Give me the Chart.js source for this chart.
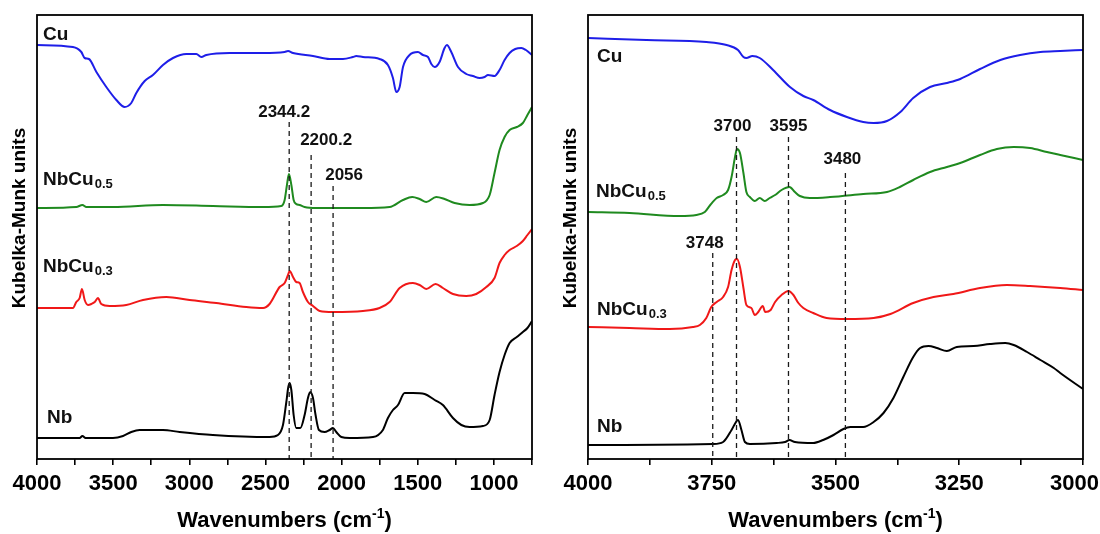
<!DOCTYPE html>
<html>
<head>
<meta charset="utf-8">
<title>DRIFT spectra – Kubelka-Munk</title>
<script src="https://cdn.jsdelivr.net/npm/chart.js@4/dist/chart.umd.min.js"></script>
<style>
  html, body { margin: 0; padding: 0; background: #fff; }
  #wrap { position: relative; width: 1100px; height: 534px; }
  .panel { position: absolute; top: 0; width: 550px; height: 534px; }
</style>
</head>
<body>
<div id="wrap">
  <div class="panel" style="left:0"><canvas id="fullRange"></canvas></div>
  <div class="panel" style="left:550px"><canvas id="ohRange"></canvas></div>
</div>
<script>
// ---------- full range 4000–750 cm-1 (offset Kubelka-Munk, a.u.) ----------
const cuFullWn = [4000, 3764, 3709, 3687, 3659, 3610, 3545, 3479, 3425, 3381, 3348, 3293, 3239, 3173, 3107, 3020, 2954, 2921, 2888, 2735, 2516, 2374, 2352, 2319, 2188, 2079, 1991, 1926, 1904, 1860, 1751, 1696, 1663, 1641, 1619, 1597, 1554, 1499, 1466, 1433, 1411, 1389, 1357, 1324, 1309, 1280, 1236, 1182, 1138, 1094, 1061, 1039, 996, 963, 930, 897, 860, 820, 790, 750];
const cuFullKM = [4.14, 4.12, 4.07, 4.01, 4.00, 3.87, 3.72, 3.59, 3.52, 3.56, 3.66, 3.78, 3.84, 3.94, 4.01, 4.05, 4.05, 4.02, 4.04, 4.06, 4.06, 4.07, 4.08, 4.06, 4.03, 4.00, 4.00, 4.02, 4.03, 4.02, 4.00, 3.94, 3.81, 3.67, 3.72, 3.92, 4.04, 4.07, 4.04, 4.02, 3.95, 3.92, 3.97, 4.11, 4.14, 4.07, 3.92, 3.85, 3.83, 3.81, 3.82, 3.84, 3.83, 3.89, 3.99, 4.06, 4.10, 4.11, 4.09, 4.04];

const nbcu05FullWn = [4000, 3742, 3702, 3676, 3501, 3173, 2845, 2516, 2396, 2374, 2359, 2346, 2330, 2315, 2298, 2276, 2243, 2166, 1860, 1685, 1597, 1536, 1488, 1444, 1379, 1324, 1258, 1160, 1072, 1028, 996, 963, 930, 897, 850, 810, 780, 750];
const nbcu05FullKM = [2.51, 2.52, 2.54, 2.52, 2.52, 2.54, 2.53, 2.52, 2.53, 2.59, 2.74, 2.85, 2.74, 2.59, 2.55, 2.54, 2.52, 2.51, 2.51, 2.52, 2.59, 2.62, 2.60, 2.57, 2.62, 2.60, 2.56, 2.54, 2.56, 2.64, 2.86, 3.09, 3.22, 3.29, 3.32, 3.36, 3.44, 3.52];

const nbcu03FullWn = [4000, 3764, 3742, 3720, 3705, 3687, 3665, 3643, 3621, 3600, 3578, 3523, 3414, 3304, 3151, 2998, 2823, 2626, 2516, 2473, 2407, 2374, 2352, 2341, 2319, 2298, 2276, 2254, 2221, 2188, 2144, 2057, 1860, 1751, 1685, 1619, 1532, 1488, 1444, 1383, 1335, 1269, 1182, 1116, 1050, 996, 963, 930, 897, 850, 810, 780, 750];
const nbcu03FullKM = [1.51, 1.51, 1.57, 1.61, 1.70, 1.59, 1.54, 1.55, 1.57, 1.61, 1.55, 1.53, 1.54, 1.59, 1.62, 1.59, 1.56, 1.52, 1.51, 1.55, 1.72, 1.76, 1.84, 1.88, 1.82, 1.77, 1.76, 1.67, 1.57, 1.53, 1.48, 1.47, 1.48, 1.51, 1.57, 1.71, 1.76, 1.74, 1.70, 1.75, 1.71, 1.65, 1.63, 1.65, 1.72, 1.81, 1.96, 2.04, 2.09, 2.13, 2.18, 2.24, 2.30];

const nbFullWn = [4000, 3720, 3702, 3681, 3501, 3435, 3381, 3326, 3173, 3063, 2845, 2473, 2418, 2385, 2363, 2350, 2341, 2330, 2315, 2298, 2271, 2243, 2221, 2206, 2188, 2171, 2149, 2112, 2079, 2057, 2035, 2002, 1947, 1794, 1729, 1696, 1663, 1630, 1586, 1532, 1455, 1389, 1335, 1269, 1214, 1160, 1072, 1028, 996, 963, 930, 897, 850, 810, 780, 750];
const nbFullKM = [0.21, 0.21, 0.23, 0.21, 0.21, 0.23, 0.27, 0.29, 0.29, 0.27, 0.24, 0.22, 0.24, 0.34, 0.57, 0.72, 0.76, 0.69, 0.44, 0.31, 0.31, 0.44, 0.61, 0.67, 0.61, 0.44, 0.29, 0.27, 0.29, 0.31, 0.27, 0.22, 0.21, 0.22, 0.29, 0.41, 0.49, 0.54, 0.66, 0.66, 0.65, 0.59, 0.54, 0.41, 0.34, 0.32, 0.33, 0.39, 0.64, 0.87, 1.04, 1.16, 1.22, 1.27, 1.31, 1.38];

// ---------- hydroxyl region 4000–3000 cm-1 ----------
const cuOhWn = [4000, 3882, 3761, 3720, 3697, 3686, 3680, 3668, 3653, 3626, 3592, 3565, 3545, 3511, 3477, 3444, 3423, 3396, 3369, 3343, 3309, 3275, 3248, 3208, 3167, 3127, 3086, 3046, 3000];
const cuOhKM = [4.21, 4.19, 4.17, 4.14, 4.09, 4.02, 4.01, 4.03, 4.01, 3.89, 3.72, 3.63, 3.59, 3.49, 3.42, 3.37, 3.36, 3.38, 3.47, 3.61, 3.72, 3.76, 3.80, 3.90, 3.99, 4.04, 4.07, 4.08, 4.09];

const nbcu05OhWn = [4000, 3916, 3815, 3781, 3764, 3753, 3740, 3727, 3717, 3710, 3703, 3699, 3693, 3686, 3680, 3673, 3663, 3653, 3643, 3633, 3622, 3609, 3593, 3582, 3572, 3552, 3511, 3444, 3396, 3370, 3343, 3309, 3275, 3248, 3208, 3174, 3140, 3107, 3073, 3046, 3000];
const nbcu05OhKM = [2.47, 2.46, 2.43, 2.44, 2.47, 2.54, 2.61, 2.64, 2.69, 2.82, 3.02, 3.10, 3.06, 2.86, 2.67, 2.62, 2.58, 2.61, 2.58, 2.61, 2.64, 2.69, 2.72, 2.67, 2.63, 2.61, 2.62, 2.65, 2.67, 2.72, 2.79, 2.87, 2.92, 2.96, 3.04, 3.10, 3.12, 3.11, 3.07, 3.04, 2.99];

const nbcu03OhWn = [4000, 3916, 3835, 3788, 3774, 3761, 3751, 3740, 3727, 3717, 3710, 3703, 3699, 3693, 3686, 3680, 3670, 3663, 3656, 3647, 3642, 3631, 3622, 3609, 3595, 3585, 3575, 3565, 3545, 3518, 3477, 3423, 3389, 3343, 3302, 3262, 3208, 3154, 3107, 3046, 3000];
const nbcu03OhKM = [1.32, 1.31, 1.30, 1.32, 1.34, 1.41, 1.52, 1.57, 1.62, 1.72, 1.89, 1.99, 2.00, 1.92, 1.71, 1.54, 1.51, 1.44, 1.47, 1.53, 1.47, 1.49, 1.57, 1.64, 1.68, 1.64, 1.56, 1.51, 1.46, 1.41, 1.40, 1.41, 1.45, 1.56, 1.62, 1.65, 1.71, 1.74, 1.73, 1.71, 1.69];

const nbOhWn = [4000, 3747, 3727, 3710, 3701, 3697, 3690, 3683, 3673, 3619, 3602, 3593, 3582, 3545, 3525, 3504, 3484, 3470, 3444, 3423, 3403, 3383, 3363, 3343, 3329, 3312, 3295, 3275, 3255, 3221, 3188, 3157, 3140, 3113, 3086, 3059, 3046, 3000];
const nbOhKM = [0.14, 0.15, 0.17, 0.29, 0.37, 0.39, 0.29, 0.17, 0.15, 0.16, 0.17, 0.19, 0.17, 0.16, 0.19, 0.24, 0.30, 0.32, 0.32, 0.37, 0.46, 0.61, 0.82, 1.02, 1.11, 1.13, 1.11, 1.08, 1.12, 1.13, 1.15, 1.16, 1.14, 1.07, 0.99, 0.91, 0.86, 0.70];

// sample names (main text + subscript) and colours
const sampleNames = [['Cu', ''], ['NbCu', '0.5'], ['NbCu', '0.3'], ['Nb', '']];
const sampleColors = ['#1e1ee8', '#1f8a1f', '#f01818', '#000000'];

// marked band positions (cm-1)
const fullBands = [2344.2, 2200.2, 2056];
const ohBands = [3700, 3595, 3480, 3748];

// ---------- drawing helpers ----------
const FONT = '"Liberation Sans", Arial, Helvetica, sans-serif';

function pairs(wn, km) { return wn.map((w, i) => ({ x: w, y: km[i] })); }

function makeSets(seriesList) {
  return seriesList.map((s, i) => ({
    label: sampleNames[i].join(''),
    data: pairs(s[0], s[1]),
    borderColor: sampleColors[i],
    borderWidth: 2,
    pointRadius: 0,
    fill: false,
    cubicInterpolationMode: 'monotone'
  }));
}

const panelDecor = {
  id: 'panelDecor',
  afterDatasetsDraw(chart, args, o) {
    const { ctx, chartArea: a, scales: { x, y } } = chart;
    ctx.save();

    // dashed band markers
    ctx.strokeStyle = '#1a1a1a';
    ctx.lineWidth = 1.3;
    ctx.setLineDash([5, 4]);
    o.bands.forEach(b => {
      const px = x.getPixelForValue(b.wn);
      ctx.beginPath();
      ctx.moveTo(px, y.getPixelForValue(b.top));
      ctx.lineTo(px, a.bottom);
      ctx.stroke();
    });
    ctx.setLineDash([]);
    ctx.fillStyle = '#111';
    ctx.font = 'bold 17px ' + FONT;
    ctx.textAlign = 'center';
    ctx.textBaseline = 'alphabetic';
    o.bands.forEach(b => {
      ctx.fillText(String(b.wn), x.getPixelForValue(b.wn) + b.dx, y.getPixelForValue(b.textY));
    });

    // sample names
    ctx.textAlign = 'left';
    o.names.forEach((n, i) => {
      const [main, sub] = sampleNames[i];
      const px = a.left + n.dx;
      const py = y.getPixelForValue(n.y);
      ctx.font = 'bold 19px ' + FONT;
      ctx.fillText(main, px, py);
      if (sub) {
        const w = ctx.measureText(main).width;
        ctx.font = 'bold 13px ' + FONT;
        ctx.fillText(sub, px + w + 1, py + 3);
      }
    });

    // frame
    ctx.strokeStyle = '#000';
    ctx.lineWidth = 1.8;
    ctx.strokeRect(a.left, a.top, a.width, a.height);

    // labelled x ticks (kept inside the canvas at the edges)
    ctx.fillStyle = '#000';
    ctx.font = 'bold 22px ' + FONT;
    ctx.textAlign = 'center';
    ctx.textBaseline = 'middle';
    x.ticks.forEach(t => {
      if (t.value % o.major !== 0) return;
      const s = String(t.value);
      const w = ctx.measureText(s).width;
      let px = x.getPixelForValue(t.value);
      px = Math.min(Math.max(px, w / 2 + 1), chart.width - w / 2 - 1);
      ctx.fillText(s, px, a.bottom + 25);
    });

    // x-axis title with superscript
    ctx.textBaseline = 'alphabetic';
    ctx.textAlign = 'left';
    const cx = (a.left + a.right) / 2;
    const by = chart.height - 7;
    const t1 = 'Wavenumbers (cm', t2 = '-1', t3 = ')';
    ctx.font = 'bold 22px ' + FONT;
    const w1 = ctx.measureText(t1).width, w3 = ctx.measureText(t3).width;
    ctx.font = 'bold 14px ' + FONT;
    const w2 = ctx.measureText(t2).width;
    const sx = cx - (w1 + w2 + w3) / 2;
    ctx.font = 'bold 22px ' + FONT;
    ctx.fillText(t1, sx, by);
    ctx.font = 'bold 14px ' + FONT;
    ctx.fillText(t2, sx + w1, by - 9);
    ctx.font = 'bold 22px ' + FONT;
    ctx.fillText(t3, sx + w1 + w2, by);

    // y-axis title
    ctx.save();
    ctx.translate(a.left - 17, a.top + 203);
    ctx.rotate(-Math.PI / 2);
    ctx.textAlign = 'center';
    ctx.textBaseline = 'middle';
    ctx.font = 'bold 19px ' + FONT;
    ctx.fillText('Kubelka-Munk units', 0, 0);
    ctx.restore();

    ctx.restore();
  }
};

function buildChart(id, sets, xr, pad, decor) {
  decor.major = xr.major;
  return new Chart(document.getElementById(id), {
    type: 'line',
    data: { datasets: sets },
    plugins: [panelDecor],
    options: {
      responsive: true,
      maintainAspectRatio: false,
      animation: false,
      devicePixelRatio: 1,
      layout: { padding: pad },
      plugins: { legend: { display: false }, tooltip: { enabled: false }, panelDecor: decor },
      scales: {
        x: {
          type: 'linear',
          reverse: true,
          min: xr.min,
          max: xr.max,
          afterFit(s) { s.height = 75; s.paddingLeft = 0; s.paddingRight = 0; },
          ticks: {
            display: false,
            stepSize: xr.minor,
            autoSkip: false,
            maxRotation: 0
          },
          grid: { drawOnChartArea: false, drawTicks: true, tickLength: 6, color: '#000', lineWidth: 1.6 },
          border: { display: false }
        },
        y: { display: false, min: 0, max: 4.44 }
      }
    }
  });
}

buildChart('fullRange',
  makeSets([[cuFullWn, cuFullKM], [nbcu05FullWn, nbcu05FullKM], [nbcu03FullWn, nbcu03FullKM], [nbFullWn, nbFullKM]]),
  { min: 750, max: 4000, minor: 250, major: 500 },
  { left: 37, right: 18, top: 15, bottom: 0 },
  {
    bands: [
      { wn: fullBands[0], top: 3.37, textY: 3.42, dx: -5 },
      { wn: fullBands[1], top: 3.04, textY: 3.14, dx: 15 },
      { wn: fullBands[2], top: 2.73, textY: 2.79, dx: 11 }
    ],
    names: [{ dx: 6, y: 4.19 }, { dx: 6, y: 2.74 }, { dx: 6, y: 1.87 }, { dx: 10, y: 0.36 }]
  });

buildChart('ohRange',
  makeSets([[cuOhWn, cuOhKM], [nbcu05OhWn, nbcu05OhKM], [nbcu03OhWn, nbcu03OhKM], [nbOhWn, nbOhKM]]),
  { min: 3000, max: 4000, minor: 125, major: 250 },
  { left: 38, right: 17, top: 15, bottom: 0 },
  {
    bands: [
      { wn: ohBands[0], top: 3.22, textY: 3.28, dx: -4 },
      { wn: ohBands[1], top: 3.22, textY: 3.28, dx: 0 },
      { wn: ohBands[2], top: 2.86, textY: 2.95, dx: -3 },
      { wn: ohBands[3], top: 2.06, textY: 2.11, dx: -8 }
    ],
    names: [{ dx: 9, y: 3.97 }, { dx: 8, y: 2.62 }, { dx: 9, y: 1.44 }, { dx: 9, y: 0.27 }]
  });
</script>
</body>
</html>
